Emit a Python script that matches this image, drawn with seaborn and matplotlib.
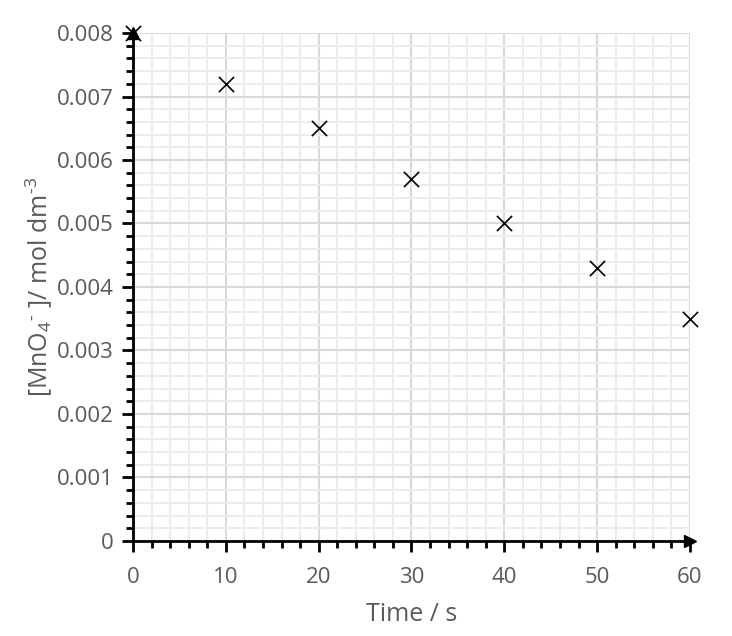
import numpy as np
import pandas as pd
import matplotlib
matplotlib.use("Agg")
import matplotlib.pyplot as plt
import seaborn as sns
from matplotlib.ticker import MultipleLocator

# -----------------------------
# Data
# -----------------------------
time_s = [0, 10, 20, 30, 40, 50, 60]
conc = [0.0080, 0.0072, 0.0065, 0.0057, 0.0050, 0.0043, 0.0035]

df = pd.DataFrame({"Time": time_s, "Conc": conc})

sns.set_theme(style="white")
plt.rcParams["font.family"] = ["Open Sans", "DejaVu Sans"]
plt.rcParams["mathtext.default"] = "regular"

fig = plt.figure(figsize=(7.32, 6.36), dpi=100)
ax = fig.add_axes([0.1817, 0.1494, 0.7609, 0.7987])

sns.scatterplot(data=df, x="Time", y="Conc", marker="x", s=120, color="black",
                linewidth=1.2, ax=ax, clip_on=False, zorder=5)

ax.set_xlim(0, 60)
ax.set_ylim(0, 0.008)
ax.xaxis.set_major_locator(MultipleLocator(10))
ax.xaxis.set_minor_locator(MultipleLocator(2))
ax.yaxis.set_minor_locator(MultipleLocator(0.0002))
ax.set_yticks(np.arange(0, 0.0081, 0.001))
ax.set_yticklabels(["0"] + [f"{v:.3f}" for v in np.arange(0.001, 0.0081, 0.001)])

ax.grid(which="minor", color="#ececec", linewidth=1.5, zorder=0)
ax.grid(which="major", color="#d9d9d9", linewidth=1.5, zorder=0)
ax.set_axisbelow(True)

for side in ["top", "right"]:
    ax.spines[side].set_visible(False)
for side in ["left", "bottom"]:
    ax.spines[side].set_color("black")
    ax.spines[side].set_linewidth(2)

ax.tick_params(which="major", direction="out", length=8, width=2, color="black",
               labelsize=16, labelcolor="#595959", pad=6,
               bottom=True, left=True)
ax.tick_params(axis="x", which="major", pad=11)
ax.tick_params(which="minor", direction="out", length=5, width=2, color="black",
               bottom=True, left=True)

# axis arrows
ax.plot(0, 1, marker="^", markersize=9, color="black", transform=ax.transAxes, clip_on=False, zorder=6)
ax.plot(1, 0, marker=">", markersize=9, color="black", transform=ax.transAxes, clip_on=False, zorder=6)

ax.set_xlabel("Time / s", fontsize=18, color="#595959", labelpad=10)
ax.set_ylabel("[MnO$_4$$^{\u2010}$ ]/ mol dm$^{\u20103}$", fontsize=18, color="#595959", labelpad=2)

fig.savefig("out.png", dpi=100)
